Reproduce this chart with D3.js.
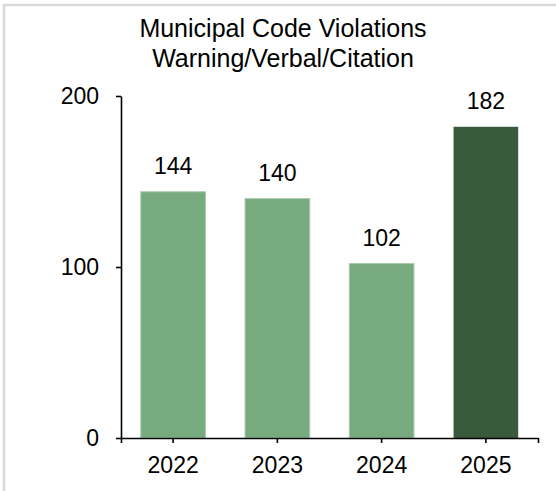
<!DOCTYPE html>
<html>
<head>
<meta charset="utf-8">
<script src="https://cdn.jsdelivr.net/npm/d3@7"></script>
<style>
  html, body { margin: 0; padding: 0; background: #fff; }
  svg { display: block; font-family: "Liberation Sans", Arial, sans-serif; }
</style>
</head>
<body>
<svg id="chart" width="556" height="491"></svg>
<script>
// Chart data
const titleLines = ["Municipal Code Violations", "Warning/Verbal/Citation"];
const years = ["2022", "2023", "2024", "2025"];
const counts = [144, 140, 102, 182];
const yTicks = [0, 100, 200];
const barColors = ["#78aa80", "#78aa80", "#78aa80", "#3a5a3d"];

const svg = d3.select("#chart");

// Outer chart frame (runs past the right and bottom edges)
svg.append("rect")
  .attr("x", 4).attr("y", 5)
  .attr("width", 620).attr("height", 560)
  .attr("fill", "#fff")
  .attr("stroke", "#d9d9d9")
  .attr("stroke-width", 2.5);

const x = d3.scaleBand()
  .domain(years)
  .range([121, 538])
  .paddingInner(0.38)
  .paddingOuter(0.19);

const y = d3.scaleLinear()
  .domain([0, 200])
  .range([438, 96]);

// Title
svg.append("g")
  .selectAll("text")
  .data(titleLines)
  .join("text")
  .attr("x", 283)
  .attr("y", (d, i) => 37 + i * 29.5)
  .attr("text-anchor", "middle")
  .attr("font-size", 25)
  .attr("fill", "#000")
  .text(d => d);

// Bars
const data = years.map((yr, i) => ({ year: yr, value: counts[i], color: barColors[i] }));

svg.append("g")
  .selectAll("rect")
  .data(data)
  .join("rect")
  .attr("x", d => x(d.year))
  .attr("y", d => y(d.value))
  .attr("width", x.bandwidth())
  .attr("height", d => y(0) - y(d.value))
  .attr("fill", d => d.color)
  .attr("stroke", d => d.year === "2025" ? "none" : "#a6ccad")
  .attr("stroke-width", 1);

// Value labels
svg.append("g")
  .selectAll("text")
  .data(data)
  .join("text")
  .attr("x", d => x(d.year) + x.bandwidth() / 2)
  .attr("y", d => y(d.value) - 18)
  .attr("text-anchor", "middle")
  .attr("font-size", 23)
  .attr("fill", "#000")
  .text(d => d.value);

// Y axis
const yAxis = svg.append("g")
  .attr("transform", "translate(121,0)")
  .call(d3.axisLeft(y).tickValues(yTicks).tickSize(5).tickSizeOuter(0).tickPadding(17));
yAxis.selectAll("text").attr("font-size", 23).attr("fill", "#000").attr("font-family", "Liberation Sans, Arial, sans-serif");
yAxis.selectAll("line, path").attr("stroke", "#000").attr("stroke-width", 1.6);

// X axis
const xAxis = svg.append("g")
  .attr("transform", `translate(0,${y(0)})`)
  .call(d3.axisBottom(x).tickSize(5).tickSizeOuter(5).tickPadding(14));
xAxis.selectAll("text").attr("font-size", 23).attr("fill", "#000").attr("font-family", "Liberation Sans, Arial, sans-serif");
xAxis.selectAll("line, path").attr("stroke", "#000").attr("stroke-width", 1.6);
</script>
</body>
</html>
